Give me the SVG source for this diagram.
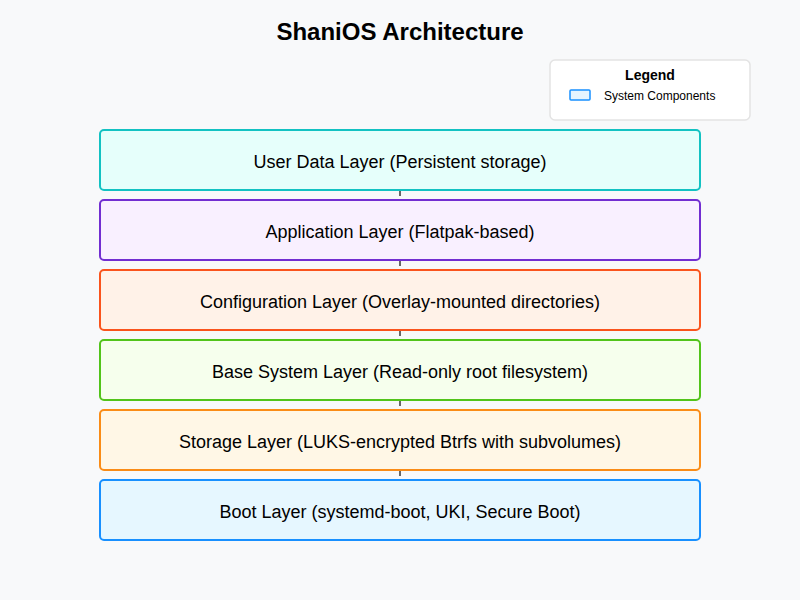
<svg xmlns="http://www.w3.org/2000/svg" width="800" height="600" viewBox="0 0 800 600">
<style>
text{font-family:"Liberation Sans",Arial,sans-serif;fill:#000}
.layer{stroke-width:2}
.lbl{font-size:18px;text-anchor:middle;dominant-baseline:central}
.conn{stroke:#666;stroke-width:2}
</style>
<rect width="800" height="600" fill="#f8f9fa"/>
<text x="400" y="40" font-size="24" font-weight="bold" text-anchor="middle">ShaniOS Architecture</text>
<g id="legend">
<rect x="550" y="60" width="200" height="60" rx="5" fill="#fff" stroke="#e3e3e3" stroke-width="1.5"/>
<text x="650" y="80" font-size="14" font-weight="bold" text-anchor="middle">Legend</text>
<rect x="570" y="90" width="20" height="10" rx="1" fill="#e6f4ff" stroke="#1890ff" stroke-width="1.5"/>
<text x="604" y="100" font-size="12">System Components</text>
</g>
<g id="connectors">
<line class="conn" x1="400" y1="190" x2="400" y2="196"/>
<line class="conn" x1="400" y1="260" x2="400" y2="266"/>
<line class="conn" x1="400" y1="330" x2="400" y2="336"/>
<line class="conn" x1="400" y1="400" x2="400" y2="406"/>
<line class="conn" x1="400" y1="470" x2="400" y2="476"/>
</g>
<g id="user-data">
<rect class="layer" x="100" y="130" width="600" height="60" rx="4" fill="#e6fffb" stroke="#13c2c2"/>
<text class="lbl" x="400" y="162">User Data Layer (Persistent storage)</text>
</g>
<g id="application">
<rect class="layer" x="100" y="200" width="600" height="60" rx="4" fill="#f9f0ff" stroke="#722ed1"/>
<text class="lbl" x="400" y="232">Application Layer (Flatpak-based)</text>
</g>
<g id="configuration">
<rect class="layer" x="100" y="270" width="600" height="60" rx="4" fill="#fff2e8" stroke="#fa541c"/>
<text class="lbl" x="400" y="302">Configuration Layer (Overlay-mounted directories)</text>
</g>
<g id="base-system">
<rect class="layer" x="100" y="340" width="600" height="60" rx="4" fill="#f6ffed" stroke="#52c41a"/>
<text class="lbl" x="400" y="372">Base System Layer (Read-only root filesystem)</text>
</g>
<g id="storage">
<rect class="layer" x="100" y="410" width="600" height="60" rx="4" fill="#fff7e6" stroke="#fa8c16"/>
<text class="lbl" x="400" y="442">Storage Layer (LUKS-encrypted Btrfs with subvolumes)</text>
</g>
<g id="boot">
<rect class="layer" x="100" y="480" width="600" height="60" rx="4" fill="#e6f7ff" stroke="#1890ff"/>
<text class="lbl" x="400" y="512">Boot Layer (systemd-boot, UKI, Secure Boot)</text>
</g>
</svg>
